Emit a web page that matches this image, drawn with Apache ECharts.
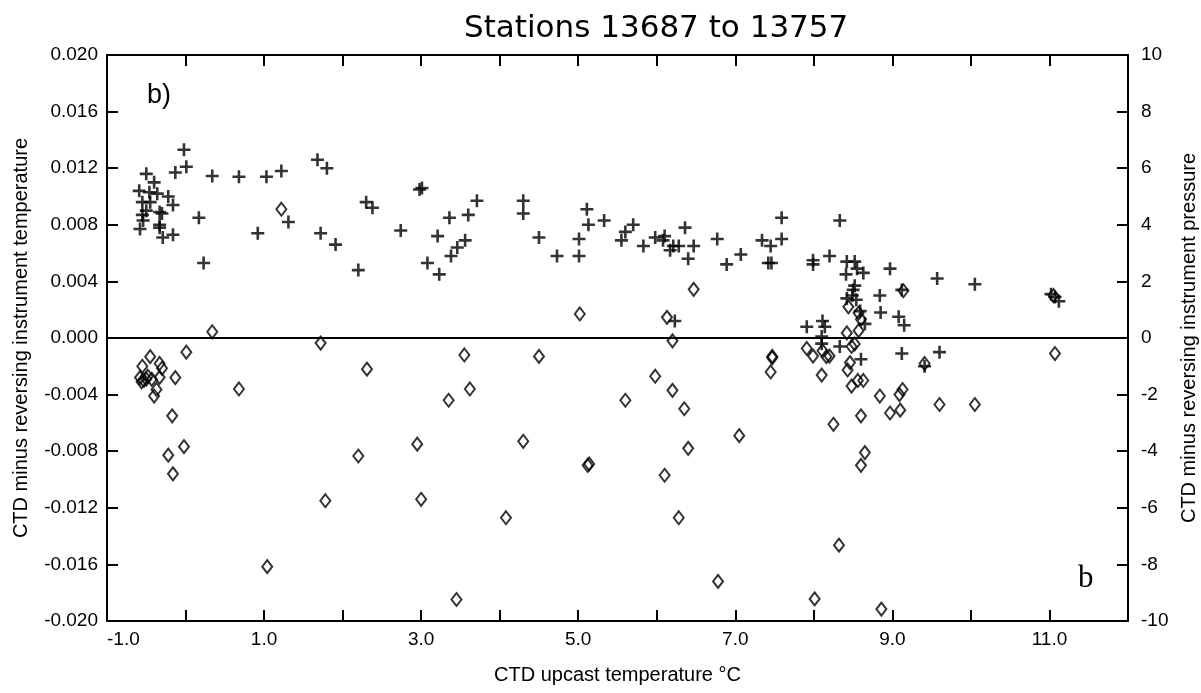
<!DOCTYPE html>
<html>
<head>
<meta charset="utf-8">
<title>Stations 13687 to 13757</title>
<script src="https://cdn.jsdelivr.net/npm/echarts@6.0.0/dist/echarts.min.js"></script>
<style>
html, body { margin: 0; padding: 0; background: #fff; }
#main { width: 1201px; height: 693px; }
</style>
</head>
<body>
<div id="main"></div>
<script>
// CTD upcast temperature (x) for the "+" points, and CTD minus reversing temperature
var crossTemp = [-0.02, -0.50, -0.40, -0.13, 0.01, 0.34, 0.68, 1.03, 1.22, 1.68, 1.80,
	-0.59, -0.46, -0.36, -0.22, -0.55, -0.45, -0.16, -0.50, -0.55, -0.33, -0.30, -0.54, 0.17,
	-0.58, -0.33, -0.33, -0.29, -0.16, 0.92, 1.31, 1.72, 1.91, 2.30, 2.38, 0.23, 2.20, 2.74,
	2.98, 3.01, 3.71, 3.36, 3.60, 3.21, 3.56, 3.46, 3.38, 3.08, 3.23,
	4.30, 4.30, 4.50, 4.73, 5.01, 5.01, 5.11, 5.13, 5.33, 5.55, 5.60, 5.70, 5.83, 5.98, 6.10,
	6.08, 6.36, 6.17, 6.21, 6.28, 6.47, 6.40, 6.77, 6.89, 7.07, 7.34, 7.45, 7.42, 7.46, 7.59,
	7.59, 6.23, 8.33, 7.99, 7.99, 8.20, 8.42, 8.52, 8.41, 8.55, 8.63, 8.97, 8.52, 8.50, 8.49,
	8.42, 8.54, 8.84, 9.12, 9.57, 10.05, 8.59, 8.85, 9.08, 9.15, 8.65, 7.91, 8.11, 8.14, 8.10,
	8.10, 8.33, 8.60, 9.12, 9.60, 9.41, 11.02, 11.07, 11.12];
var crossDiff = [0.0133, 0.0116, 0.0110, 0.0117, 0.0121, 0.01145, 0.0114, 0.0114, 0.0118, 0.0126, 0.0120,
	0.0104, 0.0103, 0.0102, 0.0100, 0.0096, 0.0096, 0.0094, 0.0090, 0.0087, 0.0089, 0.0088, 0.0083, 0.0085,
	0.0077, 0.0080, 0.0078, 0.0071, 0.0073, 0.0074, 0.0082, 0.0074, 0.0066, 0.0096, 0.0092, 0.0053, 0.0048, 0.0076,
	0.0105, 0.0106, 0.0097, 0.0085, 0.0087, 0.0072, 0.0069, 0.0064, 0.0058, 0.0053, 0.0045,
	0.0097, 0.0088, 0.0071, 0.0058, 0.0070, 0.0058, 0.0091, 0.0080, 0.0083, 0.0069, 0.0075, 0.0080, 0.0065, 0.0071, 0.0072,
	0.0069, 0.0078, 0.0062, 0.0065, 0.0065, 0.0065, 0.0056, 0.0070, 0.0052, 0.0059, 0.0069, 0.0065, 0.0053, 0.0053, 0.0085,
	0.0070, 0.0012, 0.0083, 0.0055, 0.0052, 0.0058, 0.0054, 0.0054, 0.0045, 0.0049, 0.0046, 0.0049, 0.0037, 0.0034, 0.0030,
	0.0028, 0.0027, 0.0030, 0.0034, 0.0042, 0.0038, 0.0019, 0.0018, 0.0015, 0.0009, 0.0010, 0.0008, 0.0012, 0.0008, 0.0001,
	-0.0004, -0.0006, -0.0015, -0.0011, -0.0010, -0.0020, 0.0031, 0.0029, 0.0026];

// diamonds: CTD upcast temperature and CTD minus reversing pressure (dbar)
var diamondTemp = [0.34, -0.45, -0.55, -0.33, -0.30, 0.01, -0.58, -0.53, -0.48, -0.56, -0.50, -0.33, -0.43,
	-0.13, -0.37, -0.40, 0.68, 1.72, 2.31, -0.17, -0.02, -0.22, -0.16, 2.20, 1.04, 3.45, 1.22, 5.02,
	6.47, 6.13, 8.44, 8.57, 8.60, 9.14, 8.42, 8.57, 7.91, 7.99, 8.11, 8.16, 8.20, 8.48, 8.52, 9.41,
	8.46, 8.43, 8.10, 8.56, 8.63, 8.48, 8.84, 9.09, 9.13, 8.86, 8.01, 6.78, 8.32,
	1.78, 2.95, 3.00, 3.35, 3.55, 3.62, 4.08, 4.30, 4.50, 5.12, 5.14, 5.60, 5.98, 6.10, 6.20, 6.28,
	6.35, 6.40, 6.20, 7.05, 7.45, 7.47, 7.47, 8.25, 8.60, 8.60, 8.65, 8.97, 9.10, 9.60, 10.05, 11.07, 11.05];
var diamondDiff = [0.22, -0.66, -1.0, -0.9, -1.07, -0.5, -1.4, -1.5, -1.35, -1.55, -1.45, -1.39, -1.46,
	-1.4, -1.82, -2.05, -1.8, -0.18, -1.1, -2.75, -3.84, -4.14, -4.8, -4.17, -8.08, -9.24, 4.55, 0.85,
	1.72, 0.73, 1.1, 0.88, 0.66, 1.67, 0.18, 0.26, -0.37, -0.64, -0.45, -0.66, -0.64, -0.3, -0.21, -0.9,
	-0.87, -1.13, -1.31, -1.5, -1.5, -1.7, -2.05, -2.0, -1.82, -9.58, -9.22, -8.6, -7.32,
	-5.75, -3.75, -5.7, -2.2, -0.6, -1.8, -6.35, -3.65, -0.65, -4.5, -4.45, -2.2, -1.35, -4.85, -1.85, -6.35,
	-2.5, -3.9, -0.1, -3.45, -1.2, -0.65, -0.7, -3.05, -2.75, -4.5, -4.05, -2.65, -2.55, -2.35, -2.35, -0.55, 1.5];

var tempTicks = [-0.020, 0.020];
var presTicks = [-10, 10];

var crossData = [];
for (var i = 0; i < crossTemp.length; i++) {
	crossData.push([crossTemp[i], crossDiff[i]]);
}
var diamondData = [];
for (var j = 0; j < diamondTemp.length; j++) {
	diamondData.push([diamondTemp[j], diamondDiff[j]]);
}

var font = 'Liberation Sans, Arial, sans-serif';
var axisLine = { show: true, onZero: false, lineStyle: { color: '#000', width: 2 } };
var tickIn = { show: true, inside: true, length: 11, lineStyle: { color: '#000', width: 2 } };

var myChart = echarts.init(document.getElementById('main'));
var option = {
	backgroundColor: '#fff',
	animation: false,
	title: {
		text: 'Stations 13687 to 13757',
		left: 459,
		top: 8,
		textStyle: { fontFamily: 'DejaVu Sans, sans-serif', fontSize: 31, fontWeight: 'normal', color: '#000' }
	},
	grid: { left: 107, right: 73, top: 55, bottom: 72, containLabel: false, outerBoundsMode: 'none' },
	xAxis: [
		{
			type: 'value', min: -1, max: 12, interval: 1,
			name: 'CTD upcast temperature °C',
			nameLocation: 'middle', nameGap: 44,
			nameTextStyle: { fontFamily: font, fontSize: 20, color: '#000' },
			axisLine: axisLine, axisTick: tickIn,
			splitLine: { show: false },
			axisLabel: {
				fontFamily: font, fontSize: 19, color: '#000', margin: 9,
				alignMinLabel: 'left',
				formatter: function (v) {
					var n = Math.round(v);
					return (n % 2 !== 0 && n < 12) ? n.toFixed(1) : '';
				}
			}
		},
		{
			type: 'value', min: -1, max: 12, interval: 1, position: 'top',
			axisLine: axisLine, axisTick: tickIn,
			axisLabel: { show: false }, splitLine: { show: false }
		}
	],
	yAxis: [
		{
			type: 'value', min: tempTicks[0], max: tempTicks[1], interval: 0.004,
			name: 'CTD minus reversing instrument temperature',
			nameLocation: 'middle', nameGap: 76,
			nameTextStyle: { fontFamily: font, fontSize: 20, color: '#000' },
			axisLine: axisLine, axisTick: tickIn,
			splitLine: { show: false },
			axisLabel: {
				fontFamily: font, fontSize: 19, color: '#000', margin: 9,
				formatter: function (v) { return v.toFixed(3); }
			}
		},
		{
			type: 'value', min: presTicks[0], max: presTicks[1], interval: 2, position: 'right',
			name: 'CTD minus reversing instrument pressure',
			nameLocation: 'middle', nameGap: 43,
			nameTextStyle: { fontFamily: font, fontSize: 20, color: '#000' },
			axisLine: axisLine, axisTick: tickIn,
			splitLine: { show: false },
			axisLabel: { fontFamily: font, fontSize: 19, color: '#000', margin: 13 }
		}
	],
	graphic: [
		{ type: 'text', left: 147, top: 82, style: { text: 'b)', font: '27px Liberation Sans, Arial, sans-serif', fill: '#000' } },
		{ type: 'text', left: 1078, top: 563, style: { text: 'b', font: '31px Liberation Serif, Times New Roman, serif', fill: '#000' } }
	],
	series: [
		{
			name: 'temperature',
			type: 'scatter',
			xAxisIndex: 0, yAxisIndex: 0,
			symbol: 'path://M4.8,0H7.2V12H4.8ZM0,4.8H12V7.2H0Z',
			symbolSize: 13,
			itemStyle: { color: '#000' },
			data: crossData,
			markLine: {
				silent: true, symbol: 'none', label: { show: false },
				lineStyle: { color: '#000', width: 2, type: 'solid' },
				data: [{ yAxis: 0 }]
			}
		},
		{
			name: 'pressure',
			type: 'scatter',
			xAxisIndex: 0, yAxisIndex: 1,
			symbol: 'diamond',
			symbolSize: [10, 13],
			itemStyle: { color: 'rgba(0,0,0,0)', borderColor: '#000', borderWidth: 2 },
			data: diamondData
		}
	]
};
myChart.setOption(option);
</script>
</body>
</html>
